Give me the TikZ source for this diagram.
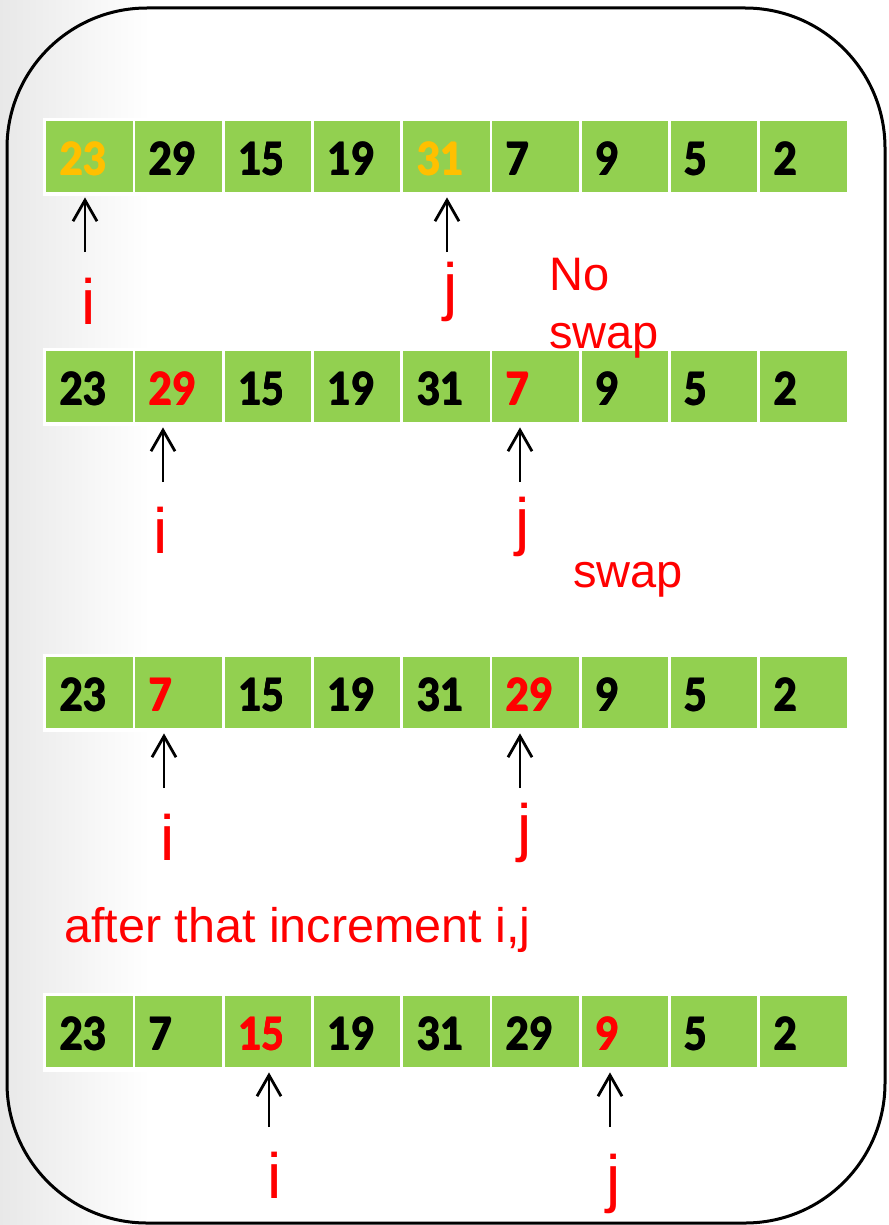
\documentclass[tikz,border=0pt]{standalone}
\usepackage{fontspec}
\setmainfont{Liberation Sans}
\newfontfamily\numfont{Carlito}[BoldFont={Carlito Bold}]
\usetikzlibrary{arrows.meta}
\definecolor{cellgreen}{HTML}{92D050}
\definecolor{numorange}{HTML}{FFC000}
\definecolor{labred}{HTML}{FF0000}
\tikzset{
  cellbox/.style={fill=cellgreen, draw=none, minimum width=86.5pt, minimum height=71pt,
    inner xsep=13pt, inner ysep=0pt, text width=60.5pt, align=left,
    text height=37pt, text depth=0pt, anchor=north west,
    font=\numfont\bfseries\fontsize{46}{46}\selectfont},
  ptr/.style={-{Straight Barb[length=21pt,width=24pt,line width=2.8pt]}, line width=2.8pt, shorten >=5pt},
  idx/.style={text=labred, font=\fontsize{64}{64}\selectfont, anchor=base, inner sep=0pt},
  note/.style={text=labred, font=\fontsize{47}{58}\selectfont, inner sep=0pt, align=left},
}
\newcommand{\heavy}[1]{\rlap{\kern0.9pt #1}\rlap{\raisebox{0.5pt}{\kern0.45pt #1}}#1}
\newcommand{\dig}[2]{\textcolor{#1}{\scalebox{1}[1.09]{\textbf{\heavy{#2}}}}}
\begin{document}
\begin{tikzpicture}[x=1pt,y=-1pt]
\useasboundingbox (0,0) rectangle (888,1225);
\fill[white] (0,0) rectangle (888,1225);
\shade[left color=black!9, right color=white] (0,0) rectangle (150,1225);
\draw[line width=3pt, rounded corners=140pt] (7,8) rectangle (885,1223);
% white strips behind rows
\foreach \t/\b in {121/192, 351/422, 657/728, 996/1068}{
  \fill[white] (43,\t-3) rectangle (850,\b+4);
}
% rows
\foreach \r/\top/\vals in {
  1/121/{23/numorange,29/black,15/black,19/black,31/numorange,7/black,9/black,5/black,2/black},
  2/351/{23/black,29/labred,15/black,19/black,31/black,7/labred,9/black,5/black,2/black},
  3/657/{23/black,7/labred,15/black,19/black,31/black,29/labred,9/black,5/black,2/black},
  4/996/{23/black,7/black,15/labred,19/black,31/black,29/black,9/labred,5/black,2/black}}{
  \foreach \v/\c [count=\k from 0] in \vals {
    \node[cellbox] (r\r c\k) at (46+89.25*\k,\top) {\dig{\c}{\v}};
  }
}
% arrow tails
\coordinate (t1i) at (85,252);  \coordinate (t1j) at (447,252);
\coordinate (t2i) at (163,482); \coordinate (t2j) at (520,482);
\coordinate (t3i) at (164,788); \coordinate (t3j) at (520,788);
\coordinate (t4i) at (269,1127); \coordinate (t4j) at (610,1127);
\draw[ptr] (t1i) -- (t1i |- r1c0.south);
\draw[ptr] (t1j) -- (t1j |- r1c4.south);
\draw[ptr] (t2i) -- (t2i |- r2c1.south);
\draw[ptr] (t2j) -- (t2j |- r2c5.south);
\draw[ptr] (t3i) -- (t3i |- r3c1.south);
\draw[ptr] (t3j) -- (t3j |- r3c5.south);
\draw[ptr] (t4i) -- (t4i |- r4c2.south);
\draw[ptr] (t4j) -- (t4j |- r4c6.south);
% index labels
\node[idx] (l1i) at (89,324) {i};
\node[idx] (l1j) at (451,308) {j};
\node[idx] (l2i) at (161,553) {i};
\node[idx] (l2j) at (523,543) {j};
\node[idx] (l3i) at (168,860) {i};
\node[idx] (l3j) at (525,849) {j};
\node[idx] (l4i) at (275,1198) {i};
\node[idx] (l4j) at (614,1200) {j};
% notes
\node[note, anchor=north west] (n1) at (549,258) {No\\swap};
\node[note, anchor=base west] (n2) at (573,587) {swap};
\node[note, anchor=base west, font=\fontsize{48.5}{58}\selectfont] (n3) at (64,942) {after that increment i,j};
\end{tikzpicture}
\end{document}
